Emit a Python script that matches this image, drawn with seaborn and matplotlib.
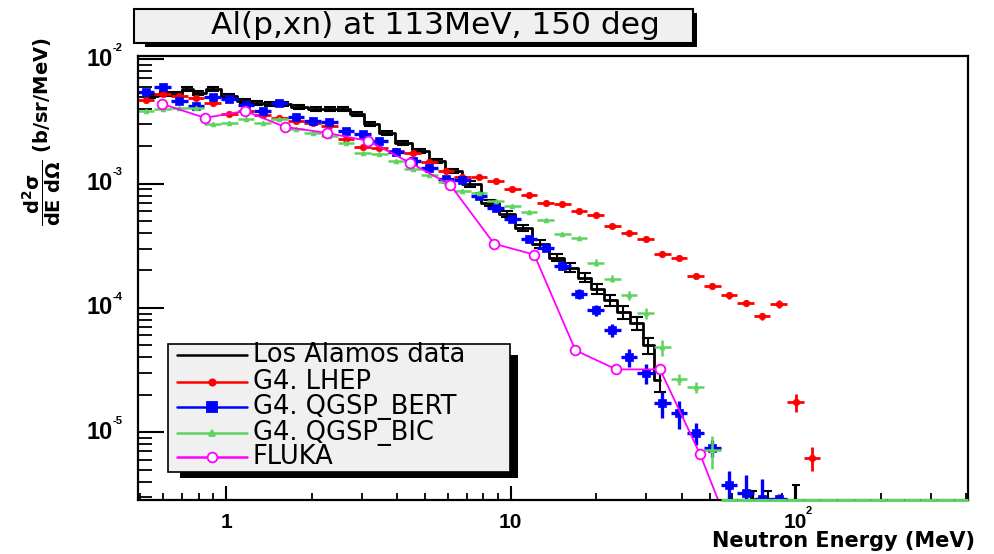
import numpy as np
import pandas as pd
import matplotlib
matplotlib.use("Agg")
import matplotlib.pyplot as plt
import matplotlib.ticker as mticker
from matplotlib.patches import Rectangle
from matplotlib.lines import Line2D
import seaborn as sns

sns.set_theme(style="white")
plt.rcParams["font.family"] = ["DejaVu Sans"]
plt.rcParams["mathtext.default"] = "bf"
plt.rcParams["text.color"] = "black"

W, H = 995, 554
Y_MIN, Y_MAX = 2.85e-6, 1.06e-2
X_MIN, X_MAX = 0.49, 405.0

# ---------------------------------------------------------------- data
# Los Alamos measurement (MeV, b/sr/MeV) with relative errors
lanl_energy = [0.540, 0.610, 0.673, 0.729, 0.797, 0.900, 1.024, 1.166, 1.285, 1.428,
               1.586, 1.806, 2.072, 2.321, 2.577, 2.887, 3.208, 3.681, 4.190, 4.807,
               5.516, 6.281, 7.204, 8.474, 9.720, 11.07, 12.70, 14.57, 16.19, 18.28,
               20.14, 22.38, 24.86, 27.84, 30.43, 33.55]
lanl_xsec = [5.05e-3, 5.24e-3, 5.24e-3, 5.75e-3, 5.34e-3, 5.75e-3, 5.05e-3, 4.60e-3, 4.44e-3, 4.36e-3,
             4.36e-3, 4.12e-3, 3.97e-3, 3.97e-3, 3.97e-3, 3.62e-3, 3.01e-3, 2.55e-3, 2.12e-3, 1.83e-3,
             1.52e-3, 1.26e-3, 9.94e-4, 7.00e-4, 5.71e-4, 4.41e-4, 3.28e-4, 2.54e-4, 2.11e-4, 1.75e-4,
             1.43e-4, 1.15e-4, 9.19e-5, 7.50e-5, 4.99e-5, 2.62e-5]
lanl_rel = [0.04, 0.04, 0.04, 0.04, 0.04, 0.04, 0.03, 0.03, 0.03, 0.03,
            0.03, 0.03, 0.03, 0.03, 0.03, 0.03, 0.04, 0.04, 0.04, 0.04,
            0.04, 0.04, 0.05, 0.05, 0.06, 0.06, 0.07, 0.07, 0.08, 0.08,
            0.09, 0.10, 0.12, 0.12, 0.15, 0.20]
# isolated high-energy measurement points
lanl_tail_energy = [71.2, 80.4, 100.8]
lanl_tail_xsec = [3.0e-6, 3.0e-6, 3.3e-6]
lanl_tail_rel = [0.12, 0.12, 0.15]

# Geant4 histogram bin centres (MeV)
sim_energy = [0.523, 0.599, 0.685, 0.784, 0.897, 1.026, 1.175, 1.344, 1.538, 1.760,
              2.014, 2.304, 2.636, 3.017, 3.452, 3.950, 4.520, 5.172, 5.918, 6.772,
              7.749, 8.866, 10.14, 11.61, 13.28, 15.20, 17.39, 19.90, 22.77, 26.06,
              29.82, 34.12, 39.04, 44.67, 51.11, 58.48, 66.92, 76.56, 87.61, 100.3,
              114.7, 131.3, 150.2, 171.9, 196.7, 225.0, 257.5, 294.6, 337.1, 385.8, 441.4]

lhep_xsec = [4.69e-3, 5.24e-3, 5.05e-3, 4.87e-3, 4.44e-3, 3.62e-3, 3.83e-3, 3.56e-3, 3.36e-3, 3.18e-3,
             3.07e-3, 2.90e-3, 2.28e-3, 1.97e-3, 1.93e-3, 1.83e-3, 1.76e-3, 1.49e-3, 1.26e-3, 1.13e-3,
             1.13e-3, 1.05e-3, 9.07e-4, 8.12e-4, 7.00e-4, 6.87e-4, 6.04e-4, 5.61e-4, 4.58e-4, 4.02e-4,
             3.60e-4, 2.73e-4, 2.54e-4, 1.82e-4, 1.51e-4, 1.26e-4, 1.10e-4, 8.53e-5, 1.08e-4, 1.74e-5,
             6.20e-6]
lhep_rel = [0.03] * 31 + [0.04, 0.04, 0.05, 0.05, 0.06, 0.06, 0.07, 0.07, 0.17, 0.22]

bert_xsec = [5.44e-3, 5.96e-3, 4.60e-3, 4.20e-3, 4.96e-3, 4.78e-3, 4.28e-3, 3.83e-3, 4.44e-3, 3.43e-3,
             3.18e-3, 3.13e-3, 2.65e-3, 2.50e-3, 2.20e-3, 1.80e-3, 1.52e-3, 1.34e-3, 1.09e-3, 1.07e-3,
             7.97e-4, 6.39e-4, 5.21e-4, 3.60e-4, 3.05e-4, 2.19e-4, 1.30e-4, 9.53e-5, 6.59e-5, 4.00e-5,
             2.98e-5, 1.71e-5, 1.42e-5, 9.83e-6, 7.46e-6, 3.77e-6, 3.25e-6, 2.9e-6, 2.9e-6]
bert_rel = [0.03] * 20 + [0.04, 0.04, 0.05, 0.06, 0.06, 0.08, 0.10, 0.10, 0.12, 0.17,
                          0.18, 0.24, 0.25, 0.20, 0.15, 0.30, 0.40, 0.45, 0.10]

bic_xsec = [3.83e-3, 3.97e-3, 4.05e-3, 4.05e-3, 3.01e-3, 3.07e-3, 3.30e-3, 3.07e-3, 3.30e-3, 2.75e-3,
            2.55e-3, 2.41e-3, 2.12e-3, 1.76e-3, 1.73e-3, 1.52e-3, 1.31e-3, 1.17e-3, 1.03e-3, 8.74e-4,
            8.42e-4, 7.27e-4, 6.63e-4, 5.93e-4, 5.11e-4, 3.95e-4, 3.67e-4, 2.31e-4, 1.72e-4, 1.26e-4,
            9.02e-5, 4.81e-5, 2.67e-5, 2.30e-5, 7.19e-6, 0, 0, 0, 0, 0,
            0, 0, 0, 0, 0, 0, 0, 0, 0, 0, 0]
bic_rel = [0.04] * 27 + [0.06, 0.07, 0.08, 0.10, 0.15, 0.10, 0.10, 0.30] + [0.0] * 16

fluka_energy = [0.596, 0.844, 1.166, 1.612, 2.264, 3.155, 4.43, 6.13, 8.74, 12.1,
                16.9, 23.5, 33.5, 46.3, 53.6]
fluka_xsec = [4.36e-3, 3.37e-3, 3.83e-3, 2.85e-3, 2.55e-3, 2.20e-3, 1.47e-3, 9.77e-4, 3.28e-4, 2.68e-4,
              4.55e-5, 3.20e-5, 3.20e-5, 6.67e-6, 0]

RED, BLUE, GREEN, MAGENTA = "#ff0000", "#0000ff", "#5fd35f", "#ff00ff"

# ---------------------------------------------------------------- figure
fig = plt.figure(figsize=(W / 100, H / 100), dpi=100)
fig.patch.set_facecolor("white")
ax = fig.add_axes([138 / W, 54 / H, 830 / W, 444 / H])
ax.set_facecolor("white")
ax.set_xscale("log")
ax.set_yscale("log")


def bin_halfwidths(energy):
    """Lower/upper distances to the geometric bin edges."""
    e = np.asarray(energy, float)
    le = np.log(e)
    mids = 0.5 * (le[1:] + le[:-1])
    lo = np.concatenate([[le[0] - (mids[0] - le[0])], mids])
    hi = np.concatenate([mids, [le[-1] + (le[-1] - mids[-1])]])
    return e - np.exp(lo), np.exp(hi) - e


def draw_histogram(energy, xsec, rel, color, marker, size, lw, z):
    n = len(xsec)
    e = np.asarray(energy[:n], float)
    v = np.asarray(xsec, float)
    r = np.asarray(rel, float)
    xlo, xhi = bin_halfwidths(e)
    filled = v > 0
    ax.errorbar(e[filled], v[filled], xerr=[xlo[filled], xhi[filled]], yerr=(r * v)[filled],
                fmt="none", ecolor=color, elinewidth=lw, capsize=0, zorder=z)
    # empty bins are drawn on the frame floor, limited to the frame width
    if (~filled).any():
        left = np.clip((e - xlo)[~filled], X_MIN, X_MAX)
        right = np.clip((e + xhi)[~filled], X_MIN, X_MAX)
        ax.hlines(np.full((~filled).sum(), Y_MIN), left, right,
                  colors=color, linewidth=lw + 0.4, zorder=9, clip_on=False)
    df = pd.DataFrame({"E": e[filled], "xsec": v[filled]})
    sns.scatterplot(data=df, x="E", y="xsec", color=color, marker=marker, s=size,
                    edgecolor=color, linewidth=0.5, ax=ax, legend=False, zorder=z + 0.1)


# Los Alamos data: stepped line with capped error bars
lanl_df = pd.DataFrame({"E": lanl_energy, "xsec": lanl_xsec})
sns.lineplot(data=lanl_df, x="E", y="xsec", color="black", lw=2.0,
             drawstyle="steps-mid", estimator=None, ax=ax, zorder=3)
ax.errorbar(lanl_energy, lanl_xsec, yerr=np.array(lanl_rel) * np.array(lanl_xsec),
            fmt="none", ecolor="black", elinewidth=1.5, capsize=4, capthick=1.5, zorder=3)
ax.errorbar(lanl_tail_energy, lanl_tail_xsec,
            yerr=np.array(lanl_tail_rel) * np.array(lanl_tail_xsec),
            fmt="none", ecolor="black", elinewidth=1.5, capsize=3, capthick=1.5, zorder=3)

draw_histogram(sim_energy, lhep_xsec, lhep_rel, RED, "o", 22, 2.0, 4)
draw_histogram(sim_energy, bert_xsec, bert_rel, BLUE, "s", 40, 2.4, 5)
draw_histogram(sim_energy, bic_xsec, bic_rel, GREEN, "^", 12, 1.8, 6)

fluka_shown = [v if v > 0 else Y_MIN for v in fluka_xsec]
fluka_df = pd.DataFrame({"E": fluka_energy, "xsec": fluka_shown})
sns.lineplot(data=fluka_df, x="E", y="xsec", color=MAGENTA, lw=1.3, estimator=None,
             marker="o", markersize=7, markerfacecolor="white", markeredgecolor=MAGENTA,
             markeredgewidth=1.3, markevery=list(range(len(fluka_energy) - 1)),
             ax=ax, zorder=7)

ax.set_xlim(X_MIN, X_MAX)
ax.set_ylim(Y_MIN, Y_MAX)
ax.set_xlabel("")
ax.set_ylabel("")

# ---------------------------------------------------------------- axes styling
for sp in ax.spines.values():
    sp.set_color("black")
    sp.set_linewidth(1.6)
    sp.set_visible(True)
    sp.set_zorder(8)

ax.xaxis.set_major_locator(mticker.FixedLocator([1, 10, 100]))
ax.xaxis.set_minor_locator(mticker.LogLocator(base=10, subs=np.arange(2, 10), numticks=30))
ax.yaxis.set_major_locator(mticker.FixedLocator([1e-5, 1e-4, 1e-3, 1e-2]))
ax.yaxis.set_minor_locator(mticker.LogLocator(base=10, subs=np.arange(2, 10), numticks=30))
for axis in (ax.xaxis, ax.yaxis):
    axis.set_major_formatter(mticker.NullFormatter())
    axis.set_minor_formatter(mticker.NullFormatter())

ax.tick_params(which="both", direction="in", bottom=True, left=True,
               top=False, right=False, color="black")
ax.tick_params(axis="y", which="major", length=19, width=1.5)
ax.tick_params(axis="y", which="minor", length=10, width=1.3)
ax.tick_params(axis="x", which="major", length=10, width=1.5)
ax.tick_params(axis="x", which="minor", length=5, width=1.3)

TICK_FONT = "Liberation Sans"
for exp in (-5, -4, -3, -2):
    ax.annotate("10", xy=(0, 10.0 ** exp), xycoords=("axes fraction", "data"),
                xytext=(-18.5, 0), textcoords="offset points", ha="right", va="center",
                fontsize=17, fontweight="bold", family=TICK_FONT, annotation_clip=False)
    ax.annotate(str(exp), xy=(0, 10.0 ** exp), xycoords=("axes fraction", "data"),
                xytext=(-18, 8), textcoords="offset points", ha="left", va="center",
                fontsize=8, fontweight="bold", family=TICK_FONT, annotation_clip=False)

for val, txt in ((1, "1"), (10, "10"), (100, "10")):
    ax.annotate(txt, xy=(val, 0), xycoords=("data", "axes fraction"),
                xytext=(0, -9.4), textcoords="offset points", ha="center", va="top",
                fontsize=15, fontweight="bold", family=TICK_FONT, annotation_clip=False)
ax.annotate("2", xy=(100, 0), xycoords=("data", "axes fraction"),
            xytext=(7.5, -8), textcoords="offset points", ha="left", va="center",
            fontsize=8, fontweight="bold", family=TICK_FONT, annotation_clip=False)

# axis titles
fig.text(975 / W, 1 - 541 / H, "Neutron Energy (MeV)", ha="right", va="center",
         fontsize=15, fontweight="bold")
fig.text(42 / W, 1 - 132 / H, r"$\dfrac{d^{2}\sigma}{dE\ d\Omega}$ (b/sr/MeV)",
         rotation=90, ha="center", va="center", fontsize=14, fontweight="bold")


# ---------------------------------------------------------------- title box
def fig_rect(x0, y0, x1, y1, **kw):
    r = Rectangle((x0 / W, 1 - y1 / H), (x1 - x0) / W, (y1 - y0) / H,
                  transform=fig.transFigure, **kw)
    fig.add_artist(r)
    return r


fig_rect(145, 13, 697, 47, facecolor="black", edgecolor="none", zorder=10)
fig_rect(134, 9, 693, 43, facecolor="#f0f0f0", edgecolor="black", linewidth=1.5, zorder=11)
fig.text(435 / W, 1 - 26 / H, "Al(p,xn) at 113MeV, 150 deg", ha="center", va="center",
         fontsize=22.5, color="black", zorder=12)

# ---------------------------------------------------------------- legend box
fig_rect(180, 355, 518, 478, facecolor="black", edgecolor="none", zorder=10)
fig_rect(168, 344, 510, 472, facecolor="#f0f0f0", edgecolor="black", linewidth=1.2, zorder=11)

legend_labels = ["Los Alamos data", "G4. LHEP", "G4. QGSP_BERT", "G4. QGSP_BIC", "FLUKA"]
legend_colors = ["black", RED, BLUE, GREEN, MAGENTA]
legend_markers = [None, "o", "s", "^", "o"]
legend_msizes = [0, 4.5, 6.5, 4, 7]
legend_rows = [355, 382, 407, 433, 457]
for lab, col, mk, ms, yrow in zip(legend_labels, legend_colors, legend_markers,
                                  legend_msizes, legend_rows):
    yf = 1 - yrow / H
    fig.add_artist(Line2D([177 / W, 247 / W], [yf, yf], transform=fig.transFigure,
                          color=col, lw=1.8, zorder=12))
    if mk is not None:
        face = "white" if lab == "FLUKA" else col
        fig.add_artist(Line2D([212 / W], [yf], transform=fig.transFigure, color=col,
                              marker=mk, markersize=ms, markerfacecolor=face,
                              markeredgecolor=col, markeredgewidth=1.3, lw=0, zorder=13))
    fig.text(253 / W, yf, lab, ha="left", va="center", fontsize=18.5, color="black",
             zorder=13)

fig.savefig("out.png", dpi=100, facecolor="white")
